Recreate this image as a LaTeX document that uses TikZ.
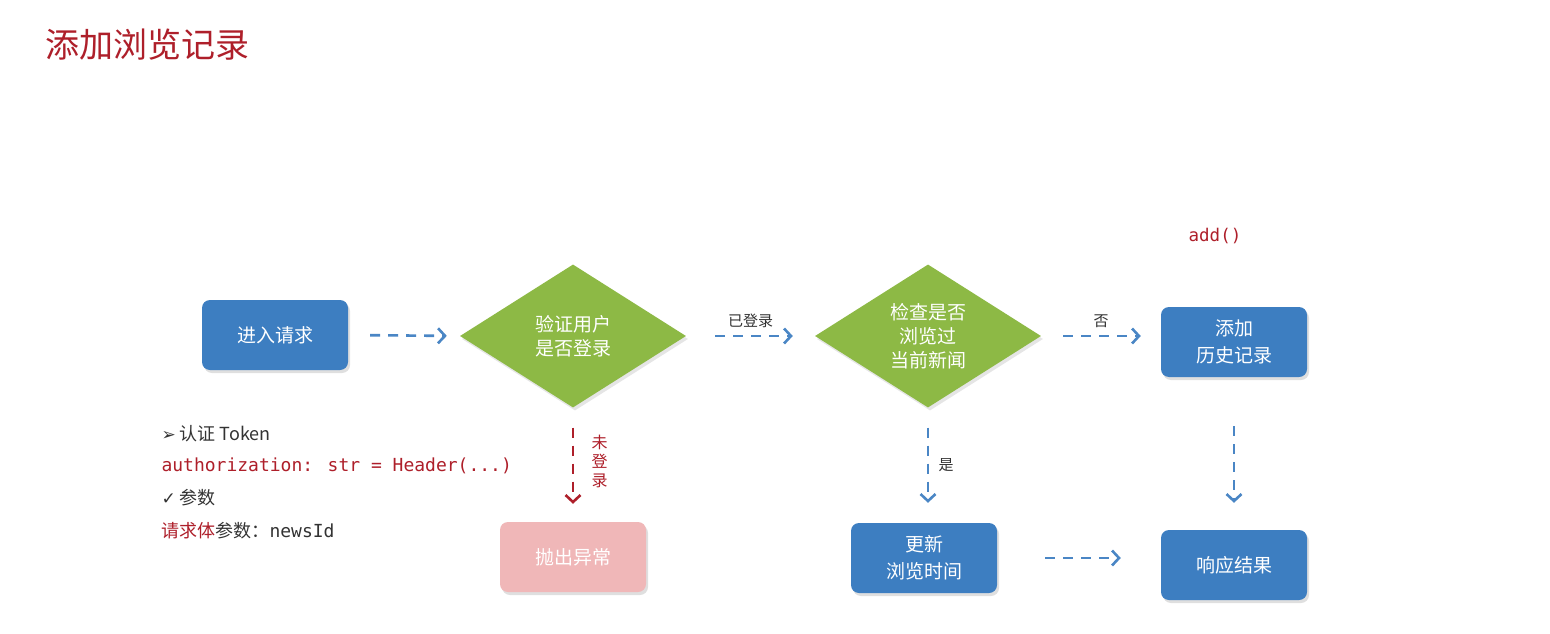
\documentclass[tikz,border=0pt]{standalone}
\usepackage{fontspec}
\setmainfont{Noto Sans CJK SC}
\newfontfamily\codefont{DejaVu Sans Mono}
\newfontfamily\symfont{DejaVu Sans}
\usetikzlibrary{shapes.geometric,arrows.meta,shadows}

\definecolor{boxblue}{HTML}{3D7EC1}
\definecolor{arrowblue}{HTML}{4A86C5}
\definecolor{diagreen}{HTML}{8DB945}
\definecolor{errpink}{HTML}{F0B7B8}
\definecolor{darkred}{HTML}{AE1F2A}
\definecolor{labelgray}{HTML}{333333}

\tikzset{
  stepbox/.style={rectangle, rounded corners=8pt, fill=boxblue, text=white,
    minimum width=146pt, minimum height=70pt, align=center,
    font=\fontsize{19}{27}\selectfont,
    drop shadow={shadow xshift=2pt, shadow yshift=-3pt, opacity=0.25}},
  checkbox/.style={diamond, aspect=1.58, inner sep=0pt, fill=diagreen, text=white,
    minimum width=226pt, minimum height=143pt, align=center,
    font=\fontsize{19}{24}\selectfont,
    drop shadow={shadow xshift=2pt, shadow yshift=-3pt, opacity=0.2}},
  flow/.style={arrowblue, line width=2.6pt, dash pattern=on 10pt off 8pt,
    -{Straight Barb[length=7pt, width=15pt, line width=2.6pt]}},
  label/.style={text=labelgray, font=\fontsize{15}{19}\selectfont}
}

\begin{document}
\begin{tikzpicture}[x=1pt, y=-1pt]
  \useasboundingbox[fill=white] (0,0) rectangle (1550,634);

  % Title
  \node[anchor=west, text=darkred, font=\fontsize{34}{36}\selectfont] (title) at (42,45) {添加浏览记录};

  % Steps
  \node[stepbox] (enter) at (275,335) {进入请求};
  \node[checkbox] (login) at (573,336) {验证用户\\是否登录};
  \node[checkbox] (viewed) at (928,336) {检查是否\\浏览过\\当前新闻};
  \node[stepbox] (addrec) at (1234,342) {添加\\历史记录};
  \node[stepbox, fill=errpink] (raise) at (573,557) {抛出异常};
  \node[stepbox] (update) at (924,558) {更新\\浏览时间};
  \node[stepbox] (result) at (1234,565) {响应结果};

  % Method name
  \node[text=darkred, font=\codefont\fontsize{17.5}{20}\selectfont] (addfn) at (1215,236) {add()};

  % Arrows
  \draw[flow, shorten <=22pt, shorten >=13pt] (enter.east) -- (login.west);
  \draw[flow, shorten <=29pt, shorten >=22pt] (login.east) -- (viewed.west)
    node[label, midway, above=4pt] (yes1) {已登录};
  \draw[flow, shorten <=22pt, shorten >=20pt] (viewed.east) -- (viewed.east -| addrec.west)
    node[label, midway, above=4pt] (no1) {否};
  \draw[flow, darkred, shorten <=20pt, shorten >=18pt] (login.south) -- (raise.north)
    node[text=darkred, font=\fontsize{16}{19}\selectfont, align=center, midway, right=14pt, yshift=3pt] (nolog) {未\\登\\录};
  \draw[flow, shorten <=20pt, shorten >=20pt] (viewed.south) -- (viewed.south |- update.north)
    node[label, midway, right=6pt] (yes2) {是};
  \draw[flow, shorten <=49pt, shorten >=27pt] (addrec.south) -- (result.north);
  \draw[flow, shorten <=48pt, shorten >=40pt] (update.east) -- (update.east -| result.west);

  % Notes
  \node[anchor=west, text=labelgray, font=\fontsize{18}{20}\selectfont] (note1) at (158,434)
    {{\symfont\fontsize{17}{18}\selectfont ➢}\ 认证 Token};
  \node[anchor=west, text=darkred, font=\codefont\fontsize{18}{20}\selectfont] (note2) at (158,466)
    {authorization: str = Header(...)};
  \node[anchor=west, text=labelgray, font=\fontsize{18}{20}\selectfont] (note3) at (158,498)
    {{\symfont\fontsize{17}{18}\selectfont ✓}\ 参数};
  \node[anchor=west, text=labelgray, font=\fontsize{18}{20}\selectfont] (note4) at (158,531)
    {\textcolor{darkred}{请求体}参数：{\codefont newsId}};
\end{tikzpicture}
\end{document}
